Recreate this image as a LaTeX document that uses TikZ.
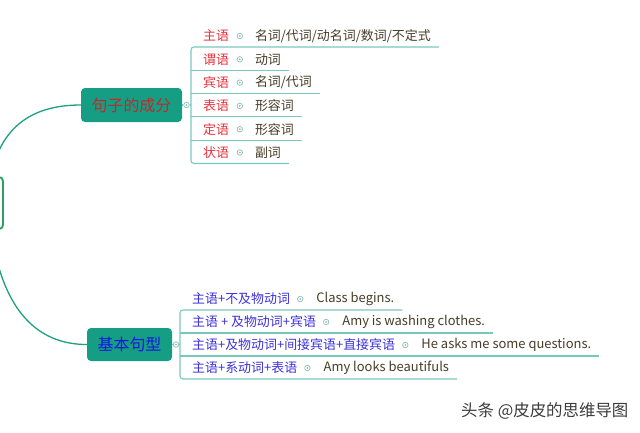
\documentclass[tikz,border=0pt]{standalone}
\usepackage{fontspec}
\setmainfont{Noto Sans CJK SC}
\usetikzlibrary{calc}
\definecolor{tealfill}{RGB}{22,158,132}
\definecolor{mainc}{RGB}{30,160,130}
\definecolor{linec}{RGB}{120,200,190}
\definecolor{redc}{RGB}{228,50,60}
\definecolor{bluec}{RGB}{60,50,220}
\definecolor{valc}{RGB}{72,60,40}
\definecolor{knobc}{RGB}{140,190,185}
\definecolor{rootc}{RGB}{40,160,95}
\definecolor{topred}{RGB}{195,40,40}
\definecolor{topblue}{RGB}{20,20,230}
\definecolor{wmc}{RGB}{60,60,60}
\begin{document}
\begin{tikzpicture}[x=1bp,y=-1bp,
  topic/.style={rectangle, rounded corners=4bp, fill=tealfill, inner sep=0,
    font=\fontsize{16}{18}\selectfont},
  lab/.style={anchor=west, inner sep=0, font=\fontsize{13}{15}\selectfont},
  val/.style={anchor=west, inner sep=0, text=valc, font=\fontsize{13}{15}\selectfont},
  knob/.style={circle, draw=knobc, line width=0.7bp, minimum size=5.5bp, inner sep=0,
    path picture={\fill[knobc] (path picture bounding box.center) circle (1bp);}},
  branch/.style={draw=linec, line width=1.1bp},
  mainline/.style={draw=mainc, line width=1.3bp}]
\useasboundingbox (0,0) rectangle (640,432);
\clip (0,0) rectangle (640,432);
\fill[white] (0,0) rectangle (640,432);

% root (cut off at left edge)
\node[draw=rootc, line width=1.8bp, rounded corners=4bp, fill=white,
  minimum width=50bp, minimum height=52bp] (root) at (-22,203) {};
\coordinate (ru) at (-8,170);
\coordinate (rl) at (-8,236);

% topic nodes
\node[topic, text=topred, minimum width=101bp, minimum height=34bp] (n1) at (131.5,105) {句子的成分};
\node[topic, text=topblue, minimum width=85bp, minimum height=33bp] (n2) at (129.5,344.5) {基本句型};

\draw[mainline] (ru) .. controls (5,120) and (40,105) .. (n1.west);
\draw[mainline] (rl) .. controls (5,320) and (45,344.5) .. (n2.west);

\node[knob] (k1) at (186.5,105) {};
\node[knob] (k2) at (176,344.5) {};

% first group
\node[lab, text=redc] (a1) at (203,36) {主语};
\node[lab, text=redc] (a2) at (203,59.3) {谓语};
\node[lab, text=redc] (a3) at (203,82.6) {宾语};
\node[lab, text=redc] (a4) at (203,105.9) {表语};
\node[lab, text=redc] (a5) at (203,129.2) {定语};
\node[lab, text=redc] (a6) at (203,152.5) {状语};
\foreach \i/\t in {1/{名词/代词/动名词/数词/不定式},2/动词,3/{名词/代词},4/形容词,5/形容词,6/副词}{
  \node[knob] (a\i k) at ($(a\i.east)+(10.5,0)$) {};
  \node[val] (a\i v) at ($(a\i k.center)+(15,0)$) {\t};
  \coordinate (a\i s) at ($(a\i.west)+(-12,11)$);
  \coordinate (a\i e) at ($(a\i v.east)+(8,11)$);
}
\draw[branch, rounded corners=3bp] (a1e) -- (a1s) -- (a6s) -- (a6e);
\foreach \i in {2,3,4,5}{\draw[branch] (a\i s) -- (a\i e);}
\draw[branch] (n1.east) -- (k1.west);
\draw[branch] (k1.east) -- (a1s |- k1);

% second group
\node[lab, text=bluec] (b1) at (192,299) {主语+不及物动词};
\node[lab, text=bluec] (b2) at (192,322) {主语 + 及物动词+宾语};
\node[lab, text=bluec] (b3) at (192,345) {主语+及物动词+间接宾语+直接宾语};
\node[lab, text=bluec] (b4) at (192,368) {主语+系动词+表语};
\foreach \i/\t in {1/{Class begins.},2/{Amy is washing clothes.},3/{He asks me some questions.},4/{Amy looks beautifuls}}{
  \node[knob] (b\i k) at ($(b\i.east)+(10,0)$) {};
  \node[val] (b\i v) at ($(b\i k.center)+(16,0)$) {\t};
  \coordinate (b\i s) at ($(b\i.west)+(-12,11)$);
  \coordinate (b\i e) at ($(b\i v.east)+(8,11)$);
}
\draw[branch, rounded corners=3bp] (b1e) -- (b1s) -- (b4s) -- (b4e);
\foreach \i in {2,3}{\draw[branch] (b\i s) -- (b\i e);}
\draw[branch] (n2.east) -- (k2.west);
\draw[branch] (k2.east) -- (b1s |- k2);

% watermark
\node[anchor=west, inner sep=0, text=wmc, font=\fontsize{16.5}{18}\selectfont] (wm) at (461,411) {头条 @皮皮的思维导图};
\end{tikzpicture}
\end{document}
